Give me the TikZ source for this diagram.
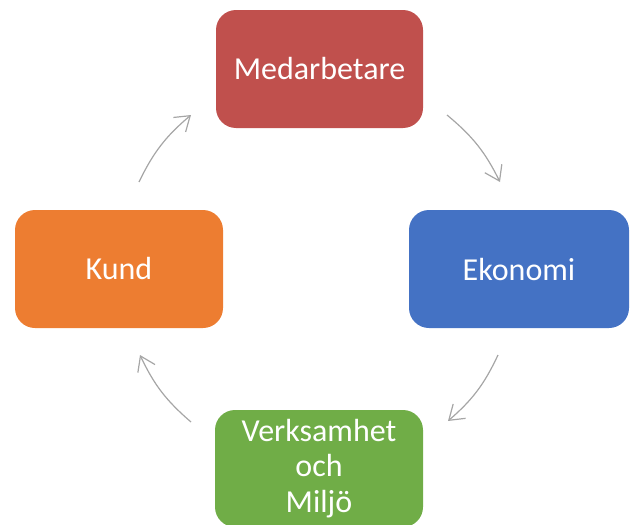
\documentclass[tikz,border=0pt]{standalone}
\usepackage{fontspec}
\setmainfont{Carlito}
\usetikzlibrary{arrows.meta}
\definecolor{cred}{HTML}{C0504D}
\definecolor{cblue}{HTML}{4472C4}
\definecolor{corange}{HTML}{ED7D31}
\definecolor{cgreen}{HTML}{70AD47}
\definecolor{cgray}{HTML}{A6A6A6}
\begin{document}
\begin{tikzpicture}[x=1pt,y=-1pt,
  box/.style={rounded corners=20pt, minimum width=207pt, minimum height=118pt,
    inner sep=0pt, text=white, font=\fontsize{32}{35.5}\selectfont, align=center},
  cyc/.style={draw=cgray, line width=1.2pt, -{Straight Barb[length=14pt,width=19pt,line width=1.2pt]}}]
\useasboundingbox (0,0) rectangle (633,525);
\node[box, fill=cred]    (med) at (319.5,69)  {Medarbetare};
\node[box, fill=cblue, minimum width=220pt]   (eko) at (519,269) {Ekonomi};
\node[box, fill=corange, minimum width=208pt] (kund) at (119,269) {Kund};
\node[box, fill=cgreen, minimum width=208pt, minimum height=117pt] (verk) at (319,468.5) {};
\node[text=white, font=\fontsize{32}{35.5}\selectfont, align=center, inner sep=0pt] (verkt) at (319,468.5) {Verksamhet\\och\\Miljö};
\coordinate (a1) at (447,115);
\coordinate (a2) at (500,182);
\coordinate (b1) at (498,355);
\coordinate (b2) at (448,421);
\coordinate (d1) at (191,422);
\coordinate (d2) at (140,355);
\coordinate (e1) at (139,182);
\coordinate (e2) at (191,115);
\draw[cyc] (a1) to[bend left=12] (a2);
\draw[cyc] (b1) to[bend left=12] (b2);
\draw[cyc] (d1) to[bend left=12] (d2);
\draw[cyc] (e1) to[bend left=12] (e2);
\end{tikzpicture}
\end{document}
